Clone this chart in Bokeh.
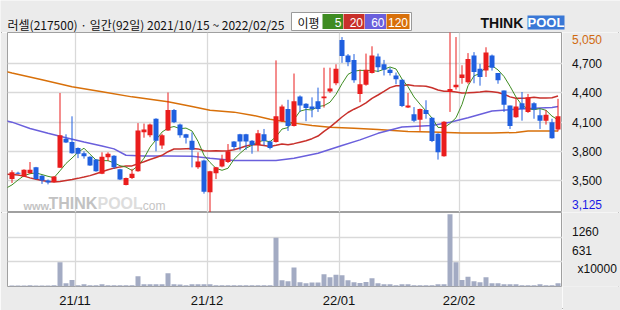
from bokeh.plotting import figure
from bokeh.layouts import column, row
from bokeh.models import Range1d, FixedTicker, Grid, Label
from bokeh.core.properties import value
from bokeh.embed import file_html
from bokeh.resources import INLINE

# ---------------- data ----------------
title_text = "러셀(217500) · 일간(92일) 2021/10/15 ~ 2022/02/25"
day_index = list(range(92))
opens = [3515, 3580, 3540, 3575, 3635, 3550, 3500, 3485, 3630, 3930,
         3895, 3835, 3780, 3745, 3715, 3570, 3740, 3755, 3615, 3455,
         3525, 3595, 3995, 3965, 4135, 3860, 4015, 4225, 4075, 3975,
         3910, 3635, 3705, 3380, 3575, 3645, 3690, 3900, 3975, 3975,
         3910, 3865, 3975, 3900, 3895, 4110, 4235, 4060, 4365, 4290,
         4260, 4315, 4345, 4415, 4500, 4945, 4785, 4740, 4390, 4485,
         4605, 4775, 4695, 4640, 4580, 4535, 4250, 4180, 4125, 4225,
         4145, 3980, 3750, 4410, 4460, 4555, 4510, 4785, 4650, 4630,
         4785, 4605, 4425, 4270, 4150, 4295, 4205, 4295, 4170, 4115,
         4100, 4025]
highs = [3605, 3590, 3615, 3690, 3640, 3555, 3510, 3545, 4400, 3975,
         4160, 3840, 3800, 3750, 3720, 3790, 3790, 3760, 3620, 3530,
         3620, 4090, 4085, 4085, 4140, 3980, 4405, 4235, 4085, 3980,
         3995, 3790, 3715, 3600, 3640, 3765, 3875, 3905, 3980, 3980,
         3915, 4020, 4030, 3910, 4735, 4280, 4330, 4600, 4375, 4295,
         4355, 4455, 4660, 4660, 4695, 4975, 4800, 4800, 4640, 4805,
         4880, 4805, 4740, 4660, 4610, 4540, 4400, 4255, 4240, 4325,
         4150, 3985, 4110, 5050, 4975, 4685, 4810, 4820, 4700, 4870,
         4795, 4605, 4425, 4270, 4340, 4410, 4390, 4305, 4235, 4225,
         4135, 4340]
lows = [3475, 3565, 3535, 3570, 3510, 3465, 3460, 3480, 3630, 3885,
        3775, 3730, 3725, 3650, 3590, 3565, 3700, 3620, 3505, 3450,
        3515, 3590, 3940, 3945, 3800, 3825, 4010, 4090, 3940, 3880,
        3635, 3620, 3365, 3125, 3515, 3635, 3680, 3815, 3810, 3815,
        3775, 3800, 3860, 3820, 3890, 4100, 4010, 4055, 4205, 4110,
        4150, 4205, 4250, 4400, 4480, 4710, 4675, 4505, 4305, 4475,
        4600, 4615, 4580, 4580, 4490, 4255, 4245, 4100, 4010, 4135,
        3895, 3715, 3745, 4205, 4435, 4495, 4495, 4500, 4475, 4565,
        4630, 4495, 4205, 4030, 4145, 4115, 4195, 4135, 4030, 4075,
        3930, 4005]
closes = [3585, 3570, 3610, 3610, 3515, 3500, 3480, 3540, 3965, 3890,
          3780, 3775, 3750, 3655, 3595, 3745, 3775, 3635, 3510, 3525,
          3570, 4015, 4025, 4075, 3910, 3965, 4225, 4100, 3965, 3940,
          3815, 3695, 3385, 3595, 3635, 3715, 3800, 3845, 3900, 3900,
          3865, 3985, 3905, 3835, 4160, 4260, 4060, 4315, 4270, 4245,
          4235, 4235, 4365, 4445, 4650, 4780, 4715, 4530, 4490, 4640,
          4785, 4665, 4640, 4605, 4540, 4265, 4270, 4115, 4235, 4185,
          3905, 3790, 4105, 4440, 4485, 4590, 4750, 4615, 4565, 4815,
          4660, 4530, 4280, 4060, 4260, 4235, 4355, 4230, 4115, 4175,
          3935, 4160]
volumes = [25, 28, 25, 30, 25, 28, 25, 30, 622, 84,
           168, 34, 59, 34, 34, 59, 30, 30, 30, 30,
           30, 260, 59, 59, 59, 59, 336, 59, 50, 35,
           55, 55, 55, 55, 30, 30, 30, 30, 30, 30,
           30, 30, 30, 30, 1245, 160, 135, 488, 109, 84,
           100, 100, 311, 235, 303, 286, 160, 109, 92, 118,
           210, 84, 59, 59, 34, 59, 59, 34, 34, 34,
           34, 59, 59, 1850, 622, 168, 252, 135, 109, 235,
           84, 84, 59, 59, 59, 34, 34, 34, 59, 34,
           34, 84]
ma_index = list(range(-1, 92))
ma5 = [3420, 3455, 3505, 3550, 3570, 3578, 3561, 3543, 3529, 3600,
       3675, 3731, 3790, 3832, 3770, 3711, 3704, 3704, 3681, 3652,
       3638, 3603, 3651, 3729, 3842, 3919, 3998, 4040, 4055, 4033,
       4039, 4009, 3903, 3760, 3686, 3625, 3605, 3626, 3718, 3779,
       3832, 3862, 3899, 3911, 3898, 3950, 4029, 4044, 4126, 4213,
       4230, 4225, 4260, 4270, 4305, 4386, 4495, 4591, 4624, 4633,
       4631, 4632, 4622, 4644, 4667, 4647, 4543, 4464, 4359, 4285,
       4214, 4142, 4046, 4044, 4085, 4145, 4282, 4474, 4576, 4601,
       4667, 4681, 4637, 4570, 4469, 4358, 4273, 4238, 4228, 4239,
       4222, 4162, 4123]
ma20 = [3565, 3562, 3556, 3545, 3527, 3513, 3500, 3490, 3484, 3490,
        3500, 3510, 3522, 3535, 3550, 3570, 3590, 3610, 3627, 3640,
        3650, 3650, 3672, 3693, 3716, 3736, 3759, 3796, 3824, 3824,
        3827, 3829, 3825, 3806, 3803, 3805, 3804, 3805, 3816, 3835,
        3854, 3869, 3867, 3861, 3849, 3862, 3876, 3868, 3879, 3894,
        3909, 3930, 3957, 4006, 4049, 4100, 4153, 4199, 4233, 4262,
        4299, 4345, 4379, 4416, 4455, 4474, 4474, 4484, 4474, 4473,
        4470, 4453, 4431, 4418, 4418, 4409, 4400, 4402, 4406, 4410,
        4418, 4412, 4405, 4387, 4360, 4346, 4345, 4349, 4355, 4349,
        4348, 4350, 4368]
ma60_index = [-1, 0, 3, 6, 9, 12, 15, 17, 19, 22, 26, 30, 33, 37, 44, 47,
              51, 55, 58, 61, 65, 70, 73, 76, 80, 84, 88, 90, 91]
ma60 = [4115, 4100, 4035, 3985, 3940, 3895, 3855, 3825, 3760, 3752, 3752,
        3750, 3730, 3706, 3706, 3728, 3780, 3860, 3918, 3985, 4050, 4066,
        4100, 4145, 4215, 4232, 4245, 4250, 4262]
ma120_index = [-1, 0, 5, 10, 15, 20, 26, 30, 33, 37, 40, 43, 47, 50, 53, 57,
               61, 66, 70, 75, 80, 84, 86, 91]
ma120 = [4620, 4605, 4535, 4465, 4413, 4360, 4309, 4262, 4222, 4203, 4172,
         4130, 4090, 4065, 4048, 4038, 4025, 4005, 3998, 3988, 3988, 3994,
         4008, 4010]
month_first_day = [11, 33, 55, 75]
month_labels = ["21/11", "21/12", "22/01", "22/02"]
price_ticks = [3500, 3800, 4100, 4400, 4700]
price_tick_labels = ["3,500", "3,800", "4,100", "4,400", "4,700"]
price_max_label = "5,050"
price_min_label = "3,125"
volume_ticks = [631, 1260]
volume_tick_labels = ["631", "1260"]
volume_unit_label = "x10000"
legend_title = "이평"
legend_labels = ["5", "20", "60", "120"]

# ---------------- geometry / style ----------------
W, H = 620, 310
SLOT = 6.0          # px per trading day
X0 = 8.5            # page px of x == 0
FRAME_L, FRAME_R = 7, 562
P_TOP, P_BOT = 32, 212
V_TOP, V_BOT = 212, 287
PX_PER_WON = 0.09725
VOL_MAX = 1893
RIGHT_W = W - FRAME_R


def xd(px):
    return (px - X0) / SLOT


def yp(py):
    return 3500 + (180 - py) / PX_PER_WON


def yv(py):
    return (V_BOT - py) * VOL_MAX / (V_BOT - V_TOP)


RED = "#ea1d1d"
BLUE = "#1f5fdf"
C_MA5 = "#3f8c22"
C_MA20 = "#c8302b"
C_MA60 = "#6a5fdc"
C_MA120 = "#d8700a"
GRID = "#d9d9d9"
OUTLINE = "#a0a0a0"
BG = "#ebebeb"
NUM_FONT = "Liberation Sans"
KR_FONT = "Noto Sans CJK KR"

xs = [i + 0.5 for i in day_index]
ma_x = [i + 0.5 for i in ma_index]
ma60_x = [i + 0.5 for i in ma60_index]
ma120_x = [i + 0.5 for i in ma120_index]
body_top = [max(o, c) for o, c in zip(opens, closes)]
body_bot = [min(o, c) for o, c in zip(opens, closes)]
colors = [RED if c >= o else BLUE for o, c in zip(opens, closes)]

x_range = Range1d(xd(FRAME_L), xd(FRAME_R))
price_range = Range1d(yp(P_BOT), yp(P_TOP))
vol_range = Range1d(0, VOL_MAX)


def bare(width, height, xr, yr, **kw):
    f = figure(width=width, height=height, x_range=xr, y_range=yr, output_backend="svg",
               toolbar_location=None, x_axis_location=None, y_axis_location=None,
               min_border_left=0, min_border_right=0, min_border_top=0, min_border_bottom=0,
               background_fill_color=BG, border_fill_color=BG, outline_line_color=None, **kw)
    f.grid.visible = False
    return f


# ---------------- header strip ----------------
hdr = bare(W, P_TOP, Range1d(0, W), Range1d(P_TOP, 0))
hdr.text(x=[7], y=[23.5], text=[title_text], text_font=value(KR_FONT), text_font_size="12px",
         text_color="#111111", text_baseline="middle")
hdr.quad(left=[291], right=[411], top=[12], bottom=[30], fill_color="white",
         line_color="#9a9a9a", line_width=1)
hdr.text(x=[297], y=[21.5], text=[legend_title], text_font=value(KR_FONT), text_font_size="12px",
         text_color="#111111", text_baseline="middle")
leg_left = [322, 343, 364.5, 386]
leg_right = [342.5, 364, 385.5, 409]
leg_colors = [C_MA5, C_MA20, C_MA60, C_MA120]
hdr.quad(left=leg_left, right=leg_right, top=[13.5] * 4, bottom=[28.5] * 4,
         fill_color=leg_colors, line_color=None)
hdr.text(x=[r - 1.5 for r in leg_right], y=[21.5] * 4, text=legend_labels,
         text_font=value(NUM_FONT), text_font_size="12px", text_color="white",
         text_align="right", text_baseline="middle")
# THINKPOOL logo
hdr.text(x=[480], y=[22], text=["THINK"], text_font=value(NUM_FONT), text_font_size="14px",
         text_font_style="bold", text_color="#111111", text_baseline="middle")
hdr.quad(left=[527], right=[564], top=[15], bottom=[29], fill_color="#3a78d6", line_color=None)
hdr.text(x=[545.5], y=[22], text=["POOL"], text_font=value(NUM_FONT), text_font_size="13px",
         text_font_style="bold", text_color="white", text_align="center", text_baseline="middle")

# ---------------- price panel ----------------
p1 = figure(width=FRAME_R, height=P_BOT - P_TOP, x_range=x_range, y_range=price_range,
            output_backend="svg", toolbar_location=None, x_axis_location=None,
            y_axis_location=None, min_border_left=FRAME_L, min_border_right=0,
            min_border_top=0, min_border_bottom=0, background_fill_color="white",
            border_fill_color=BG, outline_line_color=OUTLINE, outline_line_width=1)
p1.grid.visible = False
p1.add_layout(Grid(dimension=0, ticker=FixedTicker(ticks=month_first_day),
                   grid_line_color=GRID, grid_line_width=1.3))
p1.add_layout(Grid(dimension=1, ticker=FixedTicker(ticks=price_ticks),
                   grid_line_color=GRID, grid_line_width=1.3))

# watermark
wm = [("www.", 23, 205, "11px", "bold", "#c4c4c4"),
      ("THINK", 48, 203, "16px", "bold", "#c2c2c2"),
      ("POOL", 97, 203, "16px", "bold", "#dddddd"),
      (".com", 139, 205, "12px", "normal", "#c4c4c4")]
for t, px, py, fs, st, col in wm:
    p1.add_layout(Label(x=xd(px), y=yp(py), text=t, text_font=NUM_FONT, text_font_size=fs,
                        text_font_style=st, text_color=col, text_baseline="middle",
                        level="underlay"))

p1.line(ma120_x, ma120, line_color=C_MA120, line_width=1.5)
p1.line(ma60_x, ma60, line_color=C_MA60, line_width=1.5)
p1.line(ma_x, ma20, line_color=C_MA20, line_width=1.5)
p1.line(ma_x, ma5, line_color=C_MA5, line_width=1)

p1.segment(x0=xs, y0=lows, x1=xs, y1=highs, line_color=colors, line_width=1)
p1.vbar(x=xs, width=5 / SLOT, top=body_top, bottom=body_bot, fill_color=colors, line_color=None)

# right price scale
r1 = bare(RIGHT_W, P_BOT - P_TOP, Range1d(0, RIGHT_W), price_range)
r1.text(x=[9.5] * len(price_ticks), y=price_ticks, text=price_tick_labels,
        text_font=value(NUM_FONT), text_font_size="12px", text_color="#111111",
        text_baseline="middle")
r1.text(x=[9.5], y=[yp(38.5)], text=[price_max_label], text_font=value(NUM_FONT),
        text_font_size="12px", text_color="#d06a10", text_baseline="middle")
r1.text(x=[9.5], y=[yp(204)], text=[price_min_label], text_font=value(NUM_FONT),
        text_font_size="12px", text_color="#1a1ae6", text_baseline="middle")

# ---------------- volume panel ----------------
p2 = figure(width=FRAME_R, height=H - V_TOP, x_range=x_range, y_range=vol_range,
            output_backend="svg", toolbar_location=None, x_axis_location="below",
            y_axis_location=None, min_border_left=FRAME_L, min_border_right=0,
            min_border_top=0, min_border_bottom=H - V_BOT, background_fill_color="white",
            border_fill_color=BG, outline_line_color=OUTLINE, outline_line_width=1)
p2.xgrid.ticker = FixedTicker(ticks=month_first_day)
p2.ygrid.visible = False
p2.xgrid.grid_line_color = GRID
p2.xgrid.grid_line_width = 1.3
p2.add_layout(Grid(dimension=1, ticker=FixedTicker(ticks=volume_ticks),
                   grid_line_color=GRID, grid_line_width=1.3))
xa = p2.xaxis[0]
xa.ticker = FixedTicker(ticks=month_first_day)
xa.major_label_overrides = {d: lab for d, lab in zip(month_first_day, month_labels)}
xa.major_tick_line_color = None
xa.minor_tick_line_color = None
xa.major_tick_out = 0
xa.minor_tick_out = 0
xa.major_tick_in = 0
xa.axis_line_color = None
xa.major_label_text_font = NUM_FONT
xa.major_label_text_color = "#111111"
xa.major_label_standoff = 6
xa.major_label_text_font_size = "13px"

p2.vbar(x=xs, width=5 / SLOT, top=volumes, bottom=0, fill_color="#a3abc3", line_color=None)

r2 = bare(RIGHT_W, H - V_TOP, Range1d(0, RIGHT_W), Range1d(yv(H), yv(V_TOP)))
r2.text(x=[9.5] * len(volume_ticks), y=volume_ticks, text=volume_tick_labels,
        text_font=value(NUM_FONT), text_font_size="12px", text_color="#111111",
        text_baseline="middle")
r2.text(x=[15], y=[yv(286.5)], text=[volume_unit_label], text_font=value(NUM_FONT),
        text_font_size="12px", text_color="#111111", text_baseline="middle")

layout = column(hdr, row(p1, r1, spacing=0), row(p2, r2, spacing=0), spacing=0,
                styles={"outline": "1px solid #9c9c9c", "outline-offset": "-2px"})

with open("out.html", "w") as f:
    f.write(file_html(layout, INLINE, title="chart"))
